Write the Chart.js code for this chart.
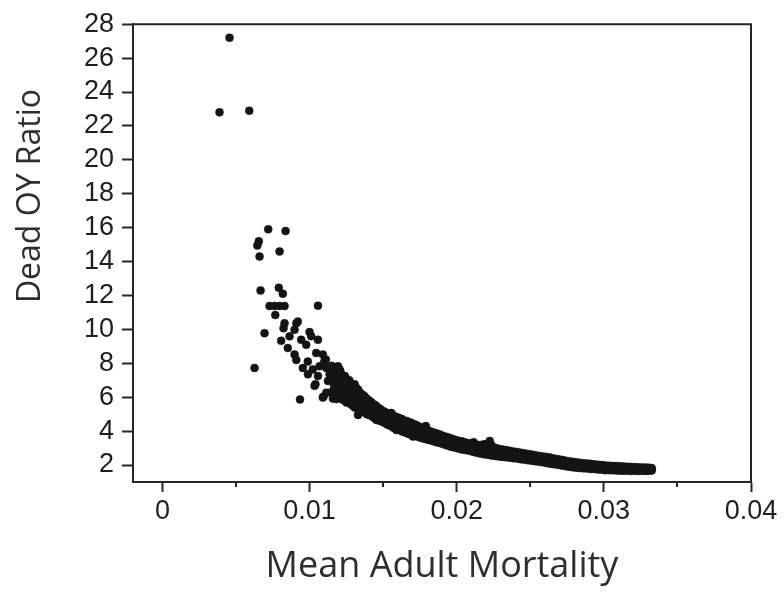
<!DOCTYPE html>
<html>
<head>
<meta charset="utf-8">
<script src="https://cdn.jsdelivr.net/npm/chart.js@4.4.0/dist/chart.umd.min.js"></script>
<style>
  html, body { margin: 0; padding: 0; background: #ffffff; }
  #wrap { width: 784px; height: 593px; position: relative; }
</style>
</head>
<body>
<div id="wrap"><canvas id="chart"></canvas></div>
<script>
// Sparse high-ratio runs and the loose cluster at low mortality
const earlyX = [0.00456,0.00388,0.00590,0.00719,0.00837,0.00655,0.00645,0.00660,0.00796,0.00667,0.00791,0.00818,0.01057,0.00728,0.00762,0.00796,0.00830,0.00767,0.00694,0.00626,0.00935,
  0.00830,0.00910,0.00823,0.00898,0.00920,0.01000,0.00864,0.00807,0.00943,0.01057,0.00852,0.00977,0.01011,0.00898,0.01045,0.01090,0.00910,0.00988,0.01100,0.01111,0.00954,0.01022,0.01068,0.01114,0.00989,0.01057,0.01136,0.01204,0.01193,0.01040,0.01125,0.01182,0.01250,0.01306,0.01114,0.01159,0.01204,0.01272,0.01318,0.01090,0.01182,0.01250,0.01306,0.01034,0.01095];
const earlyY = [27.2,22.8,22.9,15.9,15.8,15.2,14.95,14.3,14.6,12.3,12.45,12.1,11.4,11.38,11.38,11.38,11.38,10.85,9.78,7.73,5.87,
  10.36,10.36,10.07,9.98,10.46,9.84,9.59,9.33,9.39,9.39,8.9,9.1,9.6,8.52,8.61,8.52,8.2,8.1,8.1,8.22,7.73,7.64,7.83,7.73,7.35,7.25,7.35,7.64,7.83,6.77,6.96,7.15,7.06,6.77,6.27,6.37,6.47,6.27,6.18,5.98,5.89,5.69,5.4,6.67,6.04];

// Dense band, mortality 0.0115 - 0.018 (upper, middle and lower runs)
const bandX = [0.01150,0.01165,0.01180,0.01195,0.01210,0.01225,0.01240,0.01255,0.01270,0.01285,0.01300,0.01315,0.01330,0.01345,0.01360,0.01375,0.01390,0.01405,0.01420,0.01435,0.01450,0.01465,0.01480,0.01495,0.01510,0.01525,0.01540,0.01555,0.01570,0.01585,0.01600,0.01615,0.01630,0.01645,0.01660,0.01675,0.01690,0.01705,0.01720,0.01735,0.01750,0.01765,0.01780,0.01795];
const bandHigh = [7.85,7.55,7.70,7.35,7.50,7.20,7.25,6.95,7.00,6.75,6.70,6.50,6.45,6.25,6.15,6.00,5.90,5.80,5.70,5.55,5.50,5.40,5.30,5.20,5.15,5.05,5.05,4.95,4.90,4.85,4.80,4.75,4.70,4.60,4.60,4.50,4.50,4.40,4.38,4.30,4.25,4.18,4.15,4.05];
const bandMid = [7.15,6.75,7.00,6.60,6.85,6.45,6.70,6.25,6.40,6.05,6.20,5.85,6.00,5.65,5.75,5.45,5.55,5.30,5.40,5.15,5.25,4.95,5.05,4.80,4.90,4.70,4.80,4.55,4.65,4.45,4.55,4.35,4.45,4.25,4.30,4.15,4.20,4.05,4.12,3.95,4.00,3.85,3.90,3.75];
const bandLow = [6.30,6.10,6.35,6.00,6.15,5.85,6.05,5.70,5.80,5.55,5.50,5.40,5.30,5.25,5.15,5.10,5.00,4.95,4.90,4.80,4.75,4.70,4.60,4.55,4.50,4.40,4.35,4.30,4.20,4.15,4.10,4.05,3.98,3.95,3.88,3.85,3.78,3.75,3.72,3.68,3.63,3.60,3.55,3.52];

// Tail of the band, mortality 0.018 - 0.0333
const tailX = [0.01810,0.01835,0.01860,0.01885,0.01910,0.01935,0.01960,0.01985,0.02010,0.02035,0.02060,0.02085,0.02110,0.02135,0.02160,0.02185,0.02210,0.02235,0.02260,0.02285,0.02310,0.02335,0.02360,0.02385,0.02410,0.02435,0.02460,0.02485,0.02510,0.02535,0.02560,0.02585,0.02610,0.02635,0.02660,0.02685,0.02710,0.02735,0.02760,0.02785,0.02810,0.02835,0.02860,0.02885,0.02910,0.02935,0.02960,0.02985,0.03010,0.03035,0.03060,0.03085,0.03110,0.03135,0.03160,0.03185,0.03210,0.03235,0.03260,0.03285,0.03305,0.03325];
const tailHigh = [4.02,3.95,3.88,3.80,3.72,3.65,3.58,3.50,3.44,3.40,3.33,3.28,3.24,3.20,3.18,3.22,3.25,3.18,3.02,2.96,2.92,2.88,2.84,2.80,2.77,2.73,2.69,2.65,2.62,2.58,2.54,2.51,2.48,2.44,2.39,2.35,2.31,2.27,2.23,2.20,2.16,2.14,2.11,2.09,2.07,2.04,2.02,2.00,1.98,1.96,1.95,1.94,1.93,1.91,1.90,1.89,1.88,1.87,1.86,1.85,1.84,1.82];
const tailMid = [3.70,3.60,3.66,3.48,3.52,3.38,3.36,3.22,3.25,3.12,3.15,3.02,3.05,2.95,2.98,2.88,2.92,2.80,2.82,2.70,2.74,2.64,2.68,2.58,2.60,2.50,2.54,2.44,2.47,2.38,2.40,2.30,2.34,2.24,2.26,2.16,2.18,2.08,2.10,2.00,2.03,1.96,1.99,1.92,1.95,1.88,1.91,1.84,1.87,1.81,1.84,1.79,1.82,1.78,1.80,1.76,1.78,1.75,1.77,1.74,1.76,1.74];
const tailLow = [3.48,3.42,3.35,3.30,3.22,3.16,3.08,3.03,2.97,2.92,2.88,2.84,2.78,2.73,2.68,2.64,2.60,2.57,2.54,2.51,2.48,2.46,2.43,2.40,2.38,2.34,2.31,2.28,2.25,2.22,2.19,2.16,2.12,2.08,2.05,2.02,1.98,1.94,1.90,1.87,1.84,1.82,1.81,1.79,1.77,1.76,1.74,1.72,1.70,1.70,1.69,1.68,1.67,1.67,1.66,1.65,1.66,1.65,1.66,1.65,1.66,1.68];

// Points sitting off the edges of the band
const extraX = [0.01318,0.01374,0.01442,0.01556,0.01680,0.01790,0.01794,0.01159,0.01295,0.01329,0.01454,0.01590,0.01703,0.02224,0.02115];
const extraY = [6.55,6.05,5.56,5.07,4.50,4.30,4.10,5.92,5.53,4.95,4.66,4.07,3.68,3.42,3.35];

// Axes
const xTickValues = [0, 0.01, 0.02, 0.03, 0.04];
const xMinorTickValues = [0.005, 0.015, 0.025, 0.035];
const yTickValues = [2, 4, 6, 8, 10, 12, 14, 16, 18, 20, 22, 24, 26, 28];
const xTitle = 'Mean Adult Mortality';
const yTitle = 'Dead OY Ratio';

const toPoints = (xs, ys) => xs.map((x, i) => ({ x: x, y: ys[i] }));
const points = [].concat(
  toPoints(earlyX, earlyY),
  toPoints(bandX, bandHigh), toPoints(bandX, bandMid), toPoints(bandX, bandLow),
  toPoints(tailX, tailHigh), toPoints(tailX, tailMid), toPoints(tailX, tailLow),
  toPoints(extraX, extraY)
);

const dotInk = '#141414';
const axisInk = '#262626';
const tickFont = { family: '"Liberation Sans", Arial, sans-serif', size: 27 };
const xTitleFont = { family: '"Open Sans", sans-serif', size: 36 };
const yTitleFont = { family: '"Open Sans", sans-serif', size: 32 };

// Closes the plot box, adds the short minor ticks and the rotated y title
const boxPlugin = {
  id: 'plotBox',
  afterDraw(chart) {
    const { ctx, chartArea: a, scales } = chart;
    ctx.save();
    ctx.strokeStyle = axisInk;
    ctx.lineWidth = 2;
    ctx.beginPath();
    ctx.moveTo(a.left, a.top);
    ctx.lineTo(a.right, a.top);
    ctx.lineTo(a.right, a.bottom);
    ctx.stroke();

    ctx.beginPath();
    xMinorTickValues.forEach(v => {
      const px = Math.round(scales.x.getPixelForValue(v));
      ctx.moveTo(px, a.bottom);
      ctx.lineTo(px, a.bottom + 5);
    });
    ctx.stroke();

    ctx.translate(31, 196);
    ctx.rotate(-Math.PI / 2);
    ctx.font = yTitleFont.size + 'px ' + yTitleFont.family;
    ctx.fillStyle = '#2e2e2e';
    ctx.textAlign = 'center';
    ctx.textBaseline = 'middle';
    ctx.fillText(yTitle, 0, 0);
    ctx.restore();
  }
};

new Chart(document.getElementById('chart'), {
  type: 'scatter',
  data: {
    datasets: [{
      data: points,
      backgroundColor: dotInk,
      borderColor: dotInk,
      borderWidth: 0.5,
      pointRadius: 4,
      pointHoverRadius: 4
    }]
  },
  options: {
    responsive: true,
    maintainAspectRatio: false,
    animation: false,
    events: [],
    layout: { padding: { top: 20, right: 33, left: 0, bottom: 0 } },
    plugins: { legend: { display: false }, tooltip: { enabled: false } },
    scales: {
      x: {
        type: 'linear',
        min: -0.002,
        max: 0.04,
        afterBuildTicks: s => { s.ticks = xTickValues.map(v => ({ value: v })); },
        afterFit: s => { s.height = 111; },
        ticks: {
          font: tickFont,
          color: '#1e1e1e',
          padding: 3,
          maxRotation: 0,
          autoSkip: false,
          callback: v => String(v)
        },
        grid: { drawOnChartArea: false, drawTicks: true, tickLength: 10, tickWidth: 2, tickColor: axisInk },
        border: { display: true, color: axisInk, width: 2 },
        title: {
          display: true,
          text: xTitle,
          font: xTitleFont,
          color: '#2e2e2e',
          padding: { top: 0, bottom: 5 }
        }
      },
      y: {
        type: 'linear',
        min: 1,
        max: 28,
        afterBuildTicks: s => { s.ticks = yTickValues.map(v => ({ value: v })); },
        afterFit: s => { s.width = 133; },
        ticks: {
          font: tickFont,
          color: '#1e1e1e',
          padding: 8,
          autoSkip: false,
          callback: v => String(v)
        },
        grid: { drawOnChartArea: false, drawTicks: true, tickLength: 11, tickWidth: 2, tickColor: axisInk },
        border: { display: true, color: axisInk, width: 2 }
      }
    }
  },
  plugins: [boxPlugin]
});
</script>
</body>
</html>
